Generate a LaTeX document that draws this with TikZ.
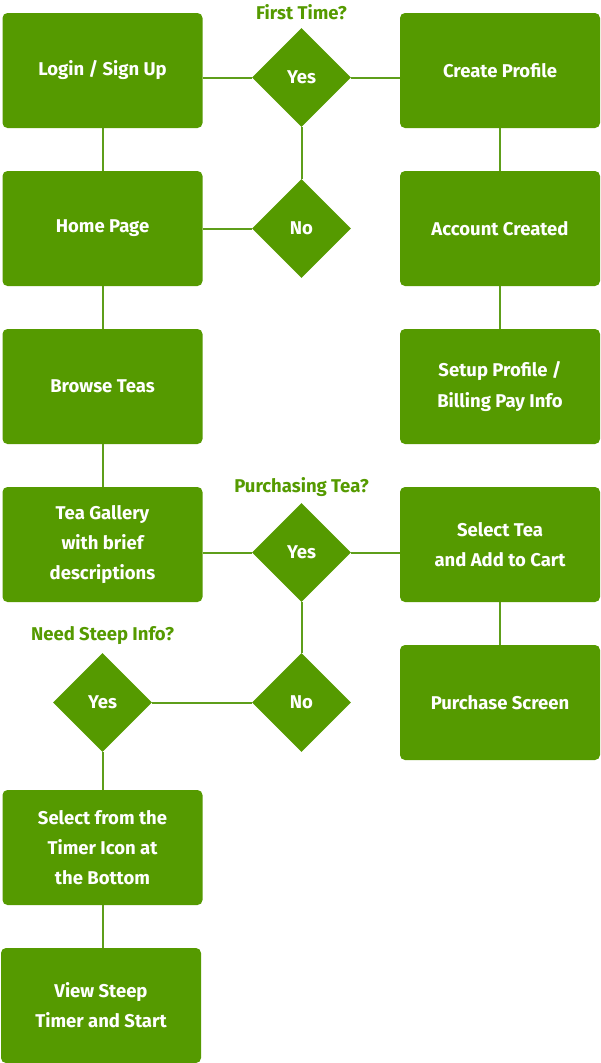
\documentclass[tikz,border=0pt]{standalone}
\usepackage{fontspec}
\setmainfont{Fira Sans}
\usetikzlibrary{shapes.geometric}
\definecolor{tgreen}{HTML}{559A00}
\definecolor{tline}{HTML}{5E9E1A}
\begin{document}
\begin{tikzpicture}[x=1pt,y=-1pt,
  box/.style={fill=tgreen,rounded corners=5pt,minimum width=200pt,minimum height=115pt,
    text=white,font=\fontsize{18.5}{30}\selectfont\bfseries,align=center,inner sep=0pt,draw=none},
  dec/.style={fill=tgreen,diamond,minimum width=99pt,minimum height=99pt,inner sep=0pt,
    text=white,font=\fontsize{18.5}{30}\selectfont\bfseries},
  qlabel/.style={text=tgreen,font=\fontsize{18.5}{20}\selectfont\bfseries},
  conn/.style={draw=tline,line width=2pt}]
\useasboundingbox (0,0) rectangle (600,1063);
% left column
\node[box] (login) at (102.5,70.5) {Login / Sign Up};
\node[box] (home) at (102.5,228.5) {Home Page};
\node[box] (browse) at (102.5,386.5) {Browse Teas};
\node[box] (gallery) at (102.5,544.5) {Tea Gallery\\with brief\\descriptions};
\node[box] (timer) at (102.5,847.5) {Select from the\\Timer Icon at\\the Bottom};
\node[box] (view) at (101,1005.5) {View Steep\\Timer and Start};
% right column
\node[box] (create) at (500,70.5) {Create Profile};
\node[box] (account) at (500,228.5) {Account Created};
\node[box] (setup) at (500,386.5) {Setup Profile /\\Billing Pay Info};
\node[box] (select) at (500,544.5) {Select Tea\\and Add to Cart};
\node[box] (purchase) at (500,702.5) {Purchase Screen};
% decisions
\node[dec] (d1) at (301.5,77.5) {Yes};
\node[dec] (d2) at (301.5,228.5) {No};
\node[dec] (d3) at (301.5,552.5) {Yes};
\node[dec] (d4) at (301.5,702.5) {No};
\node[dec] (d5) at (102.5,702.5) {Yes};
% labels
\node[qlabel] (q1) at (301.5,12) {First Time?};
\node[qlabel] (q2) at (301.5,487) {Purchasing Tea?};
\node[qlabel] (q3) at (102.5,636) {Need Steep Info?};
% connectors
\draw[conn] (d1.west) -- (d1.west -| login.east);
\draw[conn] (d1.east) -- (d1.east -| create.west);
\draw[conn] (login.south) -- (home.north);
\draw[conn] (d1.south) -- (d2.north);
\draw[conn] (d2.west) -- (home.east);
\draw[conn] (home.south) -- (browse.north);
\draw[conn] (browse.south) -- (gallery.north);
\draw[conn] (create.south) -- (account.north);
\draw[conn] (account.south) -- (setup.north);
\draw[conn] (d3.west) -- (d3.west -| gallery.east);
\draw[conn] (d3.east) -- (d3.east -| select.west);
\draw[conn] (d3.south) -- (d4.north);
\draw[conn] (d4.west) -- (d5.east);
\draw[conn] (d5.south) -- (timer.north);
\draw[conn] (timer.south) -- (view.north -| timer.south);
\draw[conn] (select.south) -- (purchase.north);
\end{tikzpicture}
\end{document}
